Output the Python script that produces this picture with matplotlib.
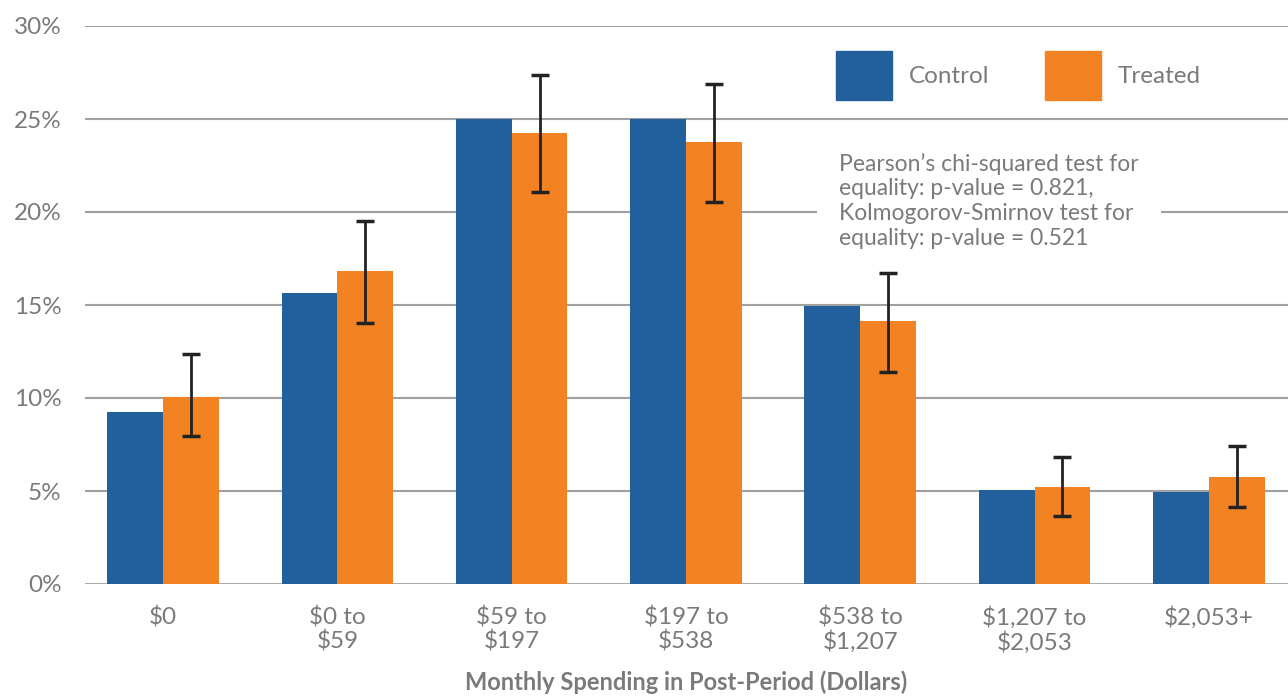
import numpy as np
import matplotlib.pyplot as plt
from matplotlib.patches import Patch

categories = ["$0", "$0 to\n$59", "$59 to\n$197", "$197 to\n$538", "$538 to\n$1,207", "$1,207 to\n$2,053", "$2,053+"]
control = [9.25, 15.65, 25.0, 25.0, 14.95, 5.05, 4.95]
treated = [10.05, 16.85, 24.25, 23.75, 14.15, 5.2, 5.75]
treated_hi = [12.37, 19.5, 27.37, 26.88, 16.72, 6.83, 7.42]
treated_lo = [7.95, 14.05, 21.08, 20.55, 11.42, 3.66, 4.14]
yticks = [0, 5, 10, 15, 20, 25, 30]

blue = "#215f9d"
orange = "#f38322"
grey = "#7a7a7a"

plt.rcParams['font.family'] = ['Lato', 'DejaVu Sans']

fig = plt.figure(figsize=(12.88, 6.98), dpi=100)
ax = fig.add_axes([85/1288, 1-584/698, 1-85/1288, (584-26)/698])

x = np.arange(len(categories))
w = 0.32
ax.bar(x - w/2, control, w, color=blue, zorder=3)
ax.bar(x + w/2, treated, w, color=orange, zorder=3)
t = np.array(treated)
err = [t - np.array(treated_lo), np.array(treated_hi) - t]
ax.errorbar(x + w/2, t, yerr=err, fmt='none', ecolor="#222222", elinewidth=2,
            capsize=6.5, capthick=2.5, zorder=4)

ax.set_xlim(-0.4475, 6.454)
ax.set_ylim(0, 30)
ax.set_yticks(yticks)
ax.set_yticklabels([f"{v}%" for v in yticks])
for v in yticks:
    ax.axhline(v, color="#a0a0a0", lw=1.5 if v else 2, zorder=1)
for s in ax.spines.values():
    s.set_visible(False)
ax.tick_params(axis='y', length=0, pad=17, labelsize=17.5, labelcolor=grey)
ax.set_xticks(x)
ax.set_xticklabels(categories, linespacing=1.1)
ax.tick_params(axis='x', length=0, pad=16, labelsize=17.5, labelcolor=grey)
ax.set_xlabel("Monthly Spending in Post-Period (Dollars)", fontsize=17,
              fontweight='bold', color=grey, labelpad=12)

handles = [Patch(color=blue, label="Control"), Patch(color=orange, label="Treated")]
fig.legend(handles=handles, loc='upper left', bbox_to_anchor=(836/1288, 1-51/698),
           ncol=2, frameon=False, fontsize=17.5, labelcolor=grey,
           handlelength=2.3, handleheight=2.7, handletextpad=0.68,
           columnspacing=2.3, borderpad=0, borderaxespad=0)

ax.text(3.878, 20.6, "Pearson\u2019s chi-squared test for\nequality: p-value = 0.821,\n"
        "Kolmogorov-Smirnov test for\nequality: p-value = 0.521",
        fontsize=16.5, color=grey, linespacing=1.22, va='center', ha='left', zorder=5,
        bbox=dict(facecolor='white', edgecolor='none', pad=16))

fig.savefig("out.png", dpi=100)
